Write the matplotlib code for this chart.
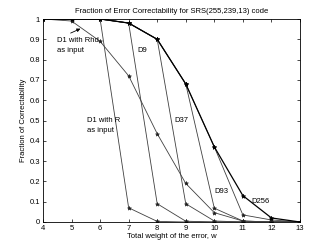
import numpy as np
import matplotlib
matplotlib.use("Agg")
import matplotlib.pyplot as plt

plt.rcParams['font.family'] = ['Liberation Sans', 'DejaVu Sans']

# total weight of the error
w = [4, 5, 6, 7, 8, 9, 10, 11, 12, 13]

# fraction of correctability per decoder
upper = [1, 1, 1, 0.98, 0.90, 0.68, 0.37, 0.13, 0.02, 0]
d256 = [1, 1, 1, 0.98, 0.90, 0.68, 0.37, 0.035, 0.01, 0]
d93 = [1, 1, 1, 0.98, 0.90, 0.68, 0.068, 0.005, 0, 0]
d37 = [1, 1, 1, 0.98, 0.90, 0.09, 0.005, 0, 0, 0]
d9 = [1, 1, 1, 0.98, 0.09, 0.004, 0, 0, 0, 0]
d1_r = [1, 1, 1, 0.07, 0.003, 0, 0, 0, 0, 0]
d1_rhd = [1, 0.99, 0.89, 0.72, 0.435, 0.19, 0.046, 0.005, 0, 0]

thin = [d256, d93, d37, d9, d1_r, d1_rhd]

fig = plt.figure(figsize=(3.32, 2.5), dpi=100)
ax = fig.add_axes([0.1295, 0.112, 0.774, 0.812])

for ys in thin:
    ax.plot(w, ys, color="#404040", lw=0.6, marker="*", ms=3.0,
            mfc="#202020", mec="#202020", mew=0.4)
ax.plot(w, upper, color="black", lw=0.9, marker="*", ms=3.2,
        mfc="black", mec="black", mew=0.5)

fs = 5.5
ax.text(4.5, 0.895, "D1 with Rhd", fontsize=fs, va="center")
ax.text(4.5, 0.845, "as input", fontsize=fs, va="center")
ax.annotate("", xy=(5.4, 0.958), xytext=(4.88, 0.925),
            arrowprops=dict(arrowstyle="-|>", color="black", lw=0.6,
                            mutation_scale=5))
ax.text(7.32, 0.845, "D9", fontsize=fs, va="center")
ax.text(8.6, 0.5, "D37", fontsize=fs, va="center")
ax.text(5.53, 0.5, "D1 with R", fontsize=fs, va="center")
ax.text(5.53, 0.45, "as input", fontsize=fs, va="center")
ax.text(10.0, 0.148, "D93", fontsize=fs, va="center")
ax.text(11.3, 0.1, "D256", fontsize=fs, va="center")

ax.set_xlim(4, 13)
ax.set_ylim(0, 1)
ax.set_xticks(w)
ax.set_yticks(np.arange(0, 1.01, 0.1))
ax.set_yticklabels(["0", "0.1", "0.2", "0.3", "0.4", "0.5", "0.6", "0.7",
                    "0.8", "0.9", "1"])
ax.tick_params(direction="in", top=True, right=True, labelsize=fs,
               length=2.5, width=0.5, pad=2)
for s in ax.spines.values():
    s.set_linewidth(0.6)

ax.set_title("Fraction of Error Correctability for SRS(255,239,13) code",
             fontsize=fs, pad=4)
ax.set_xlabel("Total weight of the error, w", fontsize=fs, labelpad=1)
ax.set_ylabel("Fraction of Correctability", fontsize=fs, labelpad=2)

fig.savefig("out.png", dpi=100)
